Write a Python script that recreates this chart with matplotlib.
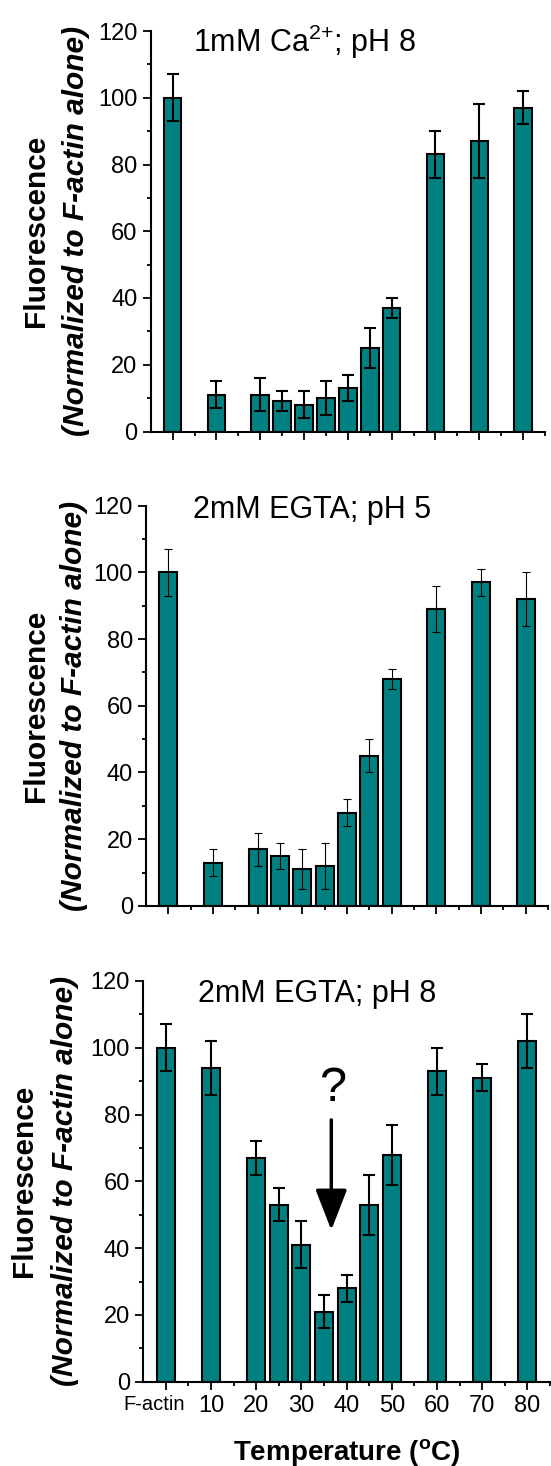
import matplotlib
matplotlib.use('Agg')
import matplotlib.pyplot as plt
from matplotlib.transforms import ScaledTranslation

plt.rcParams['font.family'] = ['Liberation Sans', 'DejaVu Sans']
plt.rcParams['mathtext.fontset'] = 'custom'
plt.rcParams['mathtext.rm'] = 'Liberation Sans'
plt.rcParams['mathtext.bf'] = 'Liberation Sans:bold'

# categories (F-actin control sits at 0 on the temperature axis)
temps = [0, 10, 20, 25, 30, 35, 40, 45, 50, 60, 70, 80]
tick_pos = [0, 10, 20, 30, 40, 50, 60, 70, 80]
tick_labels = ['F-actin', '10', '20', '30', '40', '50', '60', '70', '80']

# 1mM Ca2+; pH 8
ca_ph8 = [100, 11, 11, 9, 8, 10, 13, 25, 37, 83, 87, 97]
ca_ph8_err = [7, 4, 5, 3, 4, 5, 4, 6, 3, 7, 11, 5]

# 2mM EGTA; pH 5
egta_ph5 = [100, 13, 17, 15, 11, 12, 28, 45, 68, 89, 97, 92]
egta_ph5_err = [7, 4, 5, 4, 6, 7, 4, 5, 3, 7, 4, 8]

# 2mM EGTA; pH 8
egta_ph8 = [100, 94, 67, 53, 41, 21, 28, 53, 68, 93, 91, 102]
egta_ph8_err = [7, 8, 5, 5, 7, 5, 4, 9, 9, 7, 4, 8]

titles = ['1mM Ca$^{\\mathregular{2{+}}}$; pH 8', '2mM EGTA; pH 5', '2mM EGTA; pH 8']

W, H = 551, 1466
fig = plt.figure(figsize=(W / 100, H / 100), dpi=100)


def px_axes(left, right, top, bottom):
    return fig.add_axes([left / W, 1 - bottom / H, (right - left) / W, (bottom - top) / H])


def fx(x):
    return x / W


def fy(y):
    return 1 - y / H


teal = '#008080'

# axes boxes in pixels: left, right, top, bottom
boxes = [(150.7, 545, 31, 431.5), (146, 548, 505.5, 906), (143.3, 550, 981, 1381.7)]
data = [(ca_ph8, ca_ph8_err, 1.5, 4), (egta_ph5, egta_ph5_err, 0.8, 2.6), (egta_ph8, egta_ph8_err, 1.5, 4)]
title_pos = [(193, 51.7), (193, 518.3), (198, 1001.7)]
ylab_x = [(36, 76), (36, 74), (24, 65)]

axes = []
for i in range(3):
    ax = px_axes(*boxes[i])
    vals, errs, elw, cs = data[i]
    ax.bar(temps, vals, width=4, color=teal, edgecolor='black', linewidth=1.5, zorder=2)
    ax.errorbar(temps, vals, yerr=errs, fmt='none', ecolor='black', elinewidth=elw,
                capsize=cs, capthick=elw, zorder=3)
    ax.set_xlim(-5, 85)
    ax.set_ylim(0, 120)
    ax.set_yticks(range(0, 121, 20))
    ax.set_yticks(range(0, 121, 10), minor=True)
    ax.set_xticks(tick_pos)
    ax.set_xticks(range(5, 86, 10), minor=True)
    for s in ['top', 'right']:
        ax.spines[s].set_visible(False)
    for s in ['left', 'bottom']:
        ax.spines[s].set_linewidth(1.5)
    ax.tick_params(which='major', direction='out', length=5.5, width=1.3, labelsize=17, pad=4)
    ax.tick_params(which='minor', direction='out', length=2.8, width=1.3)
    if i < 2:
        ax.set_xticklabels([])
    else:
        ax.set_xticklabels(tick_labels)
        lab = ax.get_xticklabels()[0]
        lab.set_fontsize(14.5)
        lab.set_transform(lab.get_transform() + ScaledTranslation(-0.12, 0, fig.dpi_scale_trans))
    tx, ty = title_pos[i]
    fig.text(fx(tx), fy(ty), titles[i], fontsize=22, ha='left', va='baseline')
    cy = (boxes[i][2] + boxes[i][3]) / 2
    fig.text(fx(ylab_x[i][0]), fy(cy), 'Fluorescence', fontsize=21.5, fontweight='bold',
             rotation=90, ha='center', va='center')
    fig.text(fx(ylab_x[i][1]), fy(cy), '(Normalized to F-actin alone)', fontsize=21.5,
             fontweight='bold', fontstyle='italic', rotation=90, ha='center', va='center')
    axes.append(ax)

# question mark and arrow at the dip
ax = axes[2]
ax.text(36.9, 84, '?', fontsize=35, ha='center', va='baseline')
ax.annotate('', xy=(36.6, 45.4), xytext=(36.6, 78.4),
            arrowprops=dict(arrowstyle='-|>,head_length=1.8,head_width=0.7', color='black',
                            lw=2.5, shrinkA=0, shrinkB=0, mutation_scale=14))

fig.text(fx(347), fy(1460), 'Temperature ($\\mathregular{^{o}}$C)', fontsize=20, fontweight='bold',
         ha='center', va='baseline')

fig.savefig('out.png', dpi=100)
